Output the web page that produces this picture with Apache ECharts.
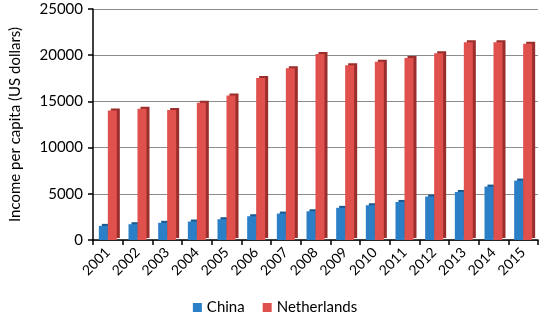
<!DOCTYPE html>
<html><head><meta charset="utf-8">
<script src="https://cdn.jsdelivr.net/npm/echarts@6/dist/echarts.min.js"></script>
<style>html,body{margin:0;padding:0;background:#fff}#c{width:550px;height:323px}</style>
</head><body><div id="c"></div>
<script>
const years = ['2001','2002','2003','2004','2005','2006','2007','2008','2009','2010','2011','2012','2013','2014','2015'];
const china = [1530,1710,1860,2000,2250,2570,2860,3110,3480,3760,4120,4700,5200,5780,6430];
const netherlands = [14020,14200,14060,14850,15640,17520,18600,20140,18920,19280,19710,20220,21400,21400,21250];
const yTicks = [0,5000,10000,15000,20000,25000];

const font = 'Lato, "Open Sans", sans-serif';
const chart = echarts.init(document.getElementById('c'));
chart.setOption({
  animation: false,
  textStyle: {fontFamily: font},
  grid: {left: 82, right: 12, top: 9, bottom: 83, containLabel: false},
  legend: {
    bottom: 3, left: 'center', itemWidth: 9, itemHeight: 9, itemGap: 18,
    icon: 'rect',
    textStyle: {fontSize: 15, color: '#000', fontFamily: font},
    data: ['China', 'Netherlands']
  },
  xAxis: {
    type: 'category', data: years,
    axisLine: {lineStyle: {color: '#000', width: 1.5}},
    axisTick: {show: true, length: 5, lineStyle: {color: '#000', width: 1.5}},
    axisLabel: {rotate: 45, fontSize: 14, color: '#000', margin: 10, fontFamily: font}
  },
  yAxis: {
    type: 'value', min: yTicks[0], max: yTicks[yTicks.length-1], interval: 5000,
    name: 'Income per capita (US dollars)', nameLocation: 'middle', nameGap: 70,
    nameTextStyle: {fontSize: 15, color: '#000', fontFamily: font},
    axisLine: {show: true, lineStyle: {color: '#000', width: 1.5}},
    axisTick: {show: true, length: 5, lineStyle: {color: '#000', width: 1.5}},
    axisLabel: {fontSize: 15, color: '#000', margin: 10, fontFamily: font, formatter: v => String(v)},
    splitLine: {lineStyle: {color: '#8c8c8c', width: 1}}
  },
  series: [
    {name: 'China', type: 'bar', data: china, barWidth: 9, barGap: '0%',
     itemStyle: {color: '#2a7fc7', shadowColor: '#1b5a8f', shadowOffsetX: 3, shadowOffsetY: -2, shadowBlur: 0}},
    {name: 'Netherlands', type: 'bar', data: netherlands, barWidth: 9,
     itemStyle: {color: '#e0504d', shadowColor: '#9a2e2c', shadowOffsetX: 3, shadowOffsetY: -2, shadowBlur: 0}}
  ]
});
</script></body></html>
